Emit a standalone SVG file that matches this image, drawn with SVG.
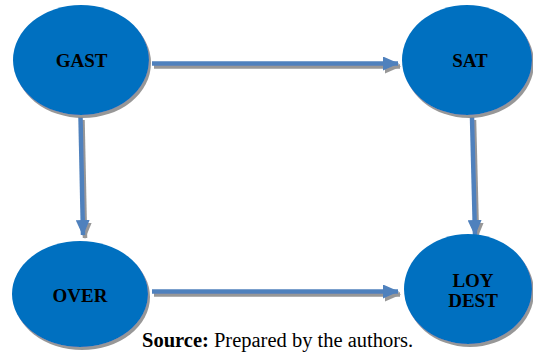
<svg xmlns="http://www.w3.org/2000/svg" width="533" height="356" viewBox="0 0 533 356">
<defs>
<filter id="sh" x="-10%" y="-10%" width="130%" height="130%">
<feDropShadow dx="2" dy="3" stdDeviation="0.6" flood-color="#8c8c8c" flood-opacity="0.9"/>
</filter>
<marker id="ah" viewBox="0 0 16 14" refX="15" refY="7" markerWidth="16" markerHeight="14" markerUnits="userSpaceOnUse" orient="auto">
<path d="M0,0 L16,7 L0,14 Z" fill="#4f81bd"/>
</marker>
<style>
.node{fill:#0070c0;filter:url(#sh)}
.lbl{font-family:"Liberation Serif","Times New Roman",serif;font-weight:bold;font-size:19px;fill:#000;text-anchor:middle}
.edge{stroke:#4f81bd;stroke-width:4.5;fill:none;marker-end:url(#ah)}
</style>
</defs>
<rect width="533" height="356" fill="#fff"/>
<g id="connectors" filter="url(#sh)">
<line class="edge" x1="152" y1="63.5" x2="398" y2="63.5"/>
<line class="edge" x1="152" y1="291.5" x2="398" y2="291.5"/>
<line class="edge" x1="80.5" y1="117" x2="83" y2="235"/>
<line class="edge" x1="472" y1="117" x2="475" y2="235"/>
</g>
<g id="gast">
<ellipse class="node" cx="81" cy="60" rx="68" ry="55"/>
<text class="lbl" x="81.5" y="67">GAST</text>
</g>
<g id="sat">
<ellipse class="node" cx="467" cy="60" rx="65" ry="55"/>
<text class="lbl" x="470" y="67">SAT</text>
</g>
<g id="over">
<ellipse class="node" cx="80" cy="294" rx="68" ry="53"/>
<text class="lbl" x="80" y="302">OVER</text>
</g>
<g id="loydest">
<ellipse class="node" cx="468" cy="289" rx="64" ry="55"/>
<text class="lbl" x="473" y="287">LOY</text>
<text class="lbl" x="473" y="307">DEST</text>
</g>
<text x="142" y="347" font-family="'Liberation Serif','Times New Roman',serif" font-size="20.5" fill="#000"><tspan font-weight="bold">Source:</tspan> Prepared by the authors.</text>
</svg>
